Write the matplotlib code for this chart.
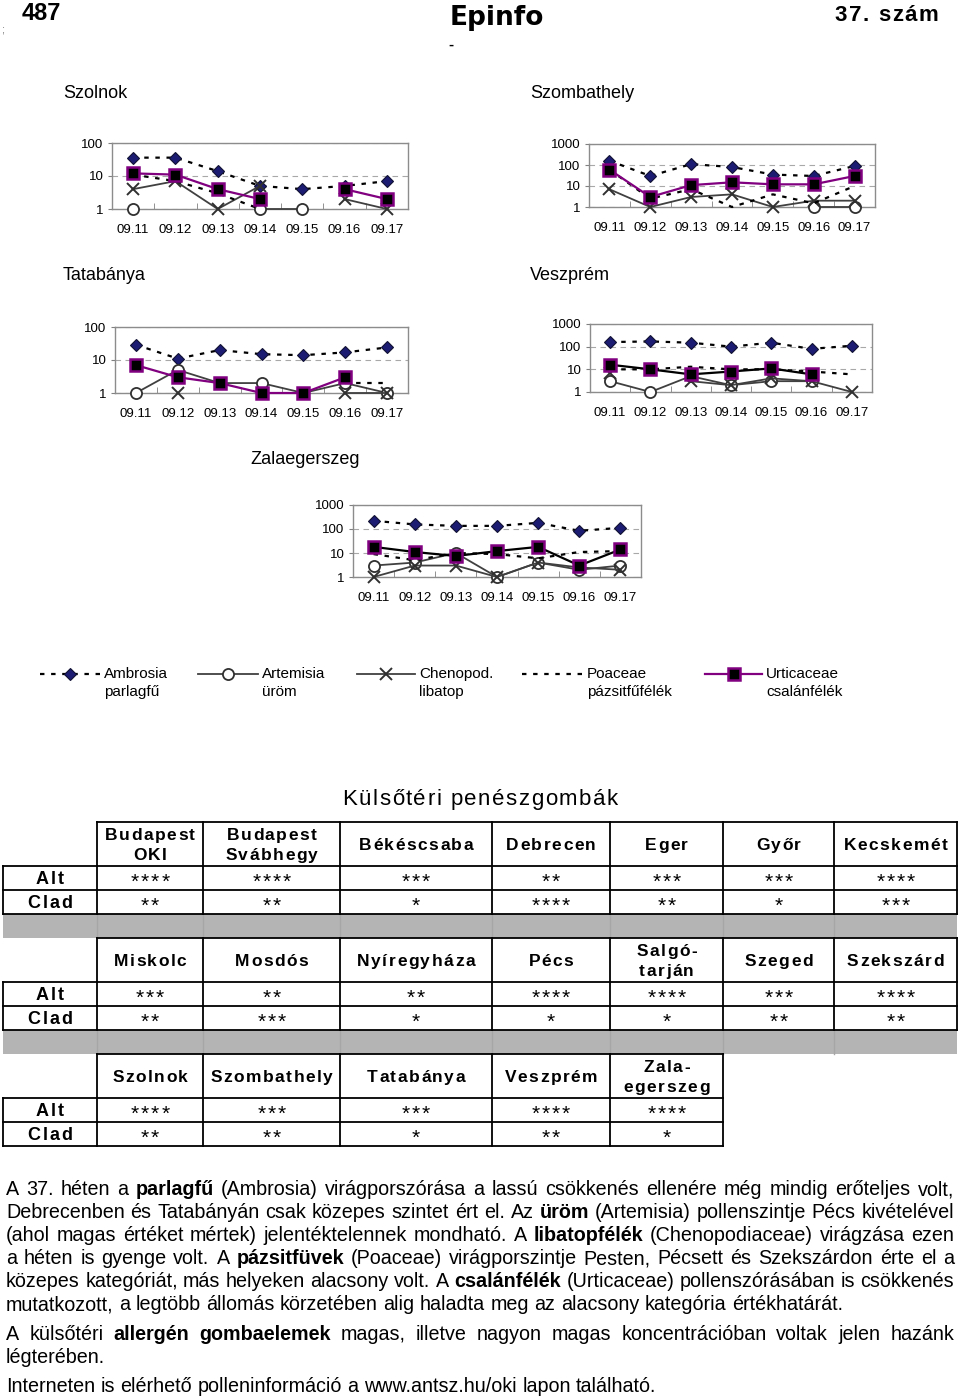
import numpy as np
import matplotlib
matplotlib.use("Agg")
import matplotlib.pyplot as plt
from matplotlib.ticker import FixedLocator, NullLocator

W, H = 960, 1398
nan = np.nan
plt.rcParams['font.family'] = ['Liberation Sans', 'DejaVu Sans']

dates = ["09.11", "09.12", "09.13", "09.14", "09.15", "09.16", "09.17"]

# pollen per m3, missing/zero days left as nan (log axis)
szolnok_amb = [36, 36, 14, 5, 4, 5, 7]
szolnok_art = [1, nan, nan, 1, 1, nan, nan]
szolnok_che = [4, 7, 1, 5, nan, 2, 1]
szolnok_poa = [11, 7, 3, 1, nan, nan, nan]
szolnok_urt = [12, 11, 4, 2, nan, 4, 2]

szombathely_amb = [160, 30, 110, 80, 35, 30, 90]
szombathely_art = [nan, nan, nan, nan, nan, 1, 1]
szombathely_che = [7, 1, 3, 4, 1, 2, 2]
szombathely_poa = [60, 2.5, 7, 1, 4, 1.5, 10]
szombathely_urt = [60, 3, 11, 15, 12, 12, 30]

tatabanya_amb = [29, 11, 20, 15, 14, 17, 24]
tatabanya_art = [1, 5, 2, 2, 1, 2, 1]
tatabanya_che = [nan, 1, nan, nan, nan, 1, 1]
tatabanya_poa = [nan, nan, nan, nan, nan, 2, 2]
tatabanya_urt = [7, 3, 2, 1, 1, 3, nan]

veszprem_amb = [160, 170, 150, 100, 150, 80, 110]
veszprem_art = [3, 1, 5, 2, 3, 3, nan]
veszprem_che = [7, nan, 3, 2, 4, 3, 1]
veszprem_poa = [10, 10, 13, 10, 10, 8, 6]
veszprem_urt = [16, 10, 6, 8, 11, 6, nan]

zala_amb = [220, 155, 135, 135, 180, 84, 112]
zala_art = [3, 4, 10, 1, 4, 2, 3]
zala_che = [1, 3, 3, 1, 4, 2.5, 2]
zala_poa = [9, 5, 10, 9, 6, 11, 12]
zala_urt = [18, 11, 7.5, 12, 18, 3, 14]

legend_names = ["Ambrosia", "Artemisia", "Chenopod.", "Poaceae", "Urticaceae"]
legend_hu = ["parlagfű", "üröm", "libatop", "pázsitfűfélék", "csalánfélék"]

# moulds table
t1_cities = ["Budapest\nOKI", "Budapest\nSvábhegy", "Békéscsaba", "Debrecen", "Eger", "Győr", "Kecskemét"]
t1_alt = ["****", "****", "***", "**", "***", "***", "****"]
t1_clad = ["**", "**", "*", "****", "**", "*", "***"]
t2_cities = ["Miskolc", "Mosdós", "Nyíregyháza", "Pécs", "Salgó-\ntarján", "Szeged", "Szekszárd"]
t2_alt = ["***", "**", "**", "****", "****", "***", "****"]
t2_clad = ["**", "***", "*", "*", "*", "**", "**"]
t3_cities = ["Szolnok", "Szombathely", "Tatabánya", "Veszprém", "Zala-\negerszeg"]
t3_alt = ["****", "***", "***", "****", "****"]
t3_clad = ["**", "**", "*", "**", "*"]

text_lines = [
    ("A 37. héten a **parlagfű** (Ambrosia) virágporszórása a lassú csökkenés ellenére még mindig erőteljes volt,", True),
    ("Debrecenben és Tatabányán csak közepes szintet ért el. Az **üröm** (Artemisia) pollenszintje Pécs kivételével", True),
    ("(ahol magas értéket mértek) jelentéktelennek mondható. A **libatopfélék** (Chenopodiaceae) virágzása ezen", True),
    ("a héten is gyenge volt. A **pázsitfüvek** (Poaceae) virágporszintje Pesten, Pécsett és Szekszárdon érte el a", True),
    ("közepes kategóriát, más helyeken alacsony volt. A **csalánfélék** (Urticaceae) pollenszórásában is csökkenés", True),
    ("mutatkozott, a legtöbb állomás körzetében alig haladta meg az alacsony kategória értékhatárát.", False),
    ("A külsőtéri **allergén gombaelemek** magas, illetve nagyon magas koncentrációban voltak jelen hazánk", True),
    ("légterében.", False),
    ("Interneten is elérhető polleninformáció a www.antsz.hu/oki lapon található.", False),
]
text_y = [1188, 1211, 1234, 1257, 1280, 1303, 1333, 1356, 1385]

PURPLE = "#800080"
DOT = (0, (2, 3))
styles = [
    dict(color="black", ls=DOT, lw=1.6, marker="D", ms=6.5, mfc="#1c1c72", mec="#111133", mew=0.8),
    dict(color="#404040", ls="-", lw=1.3, marker="o", ms=8, mfc="white", mec="#303030", mew=1.3),
    dict(color="#404040", ls="-", lw=1.3, marker="x", ms=9, mec="#303030", mew=1.4),
    dict(color="black", ls=DOT, lw=1.6, marker=None),
    dict(color=PURPLE, ls="-", lw=1.6, marker="s", ms=8, mfc="black", mec=PURPLE, mew=1.8),
]

fig = plt.figure(figsize=(W / 100, H / 100), dpi=100)
page = fig.add_axes([0, 0, 1, 1])
page.set_xlim(0, W)
page.set_ylim(H, 0)
page.axis("off")
renderer = fig.canvas.get_renderer()


def px_rect(x0, y0, x1, y1):
    return [x0 / W, 1 - y1 / H, (x1 - x0) / W, (y1 - y0) / H]


def spaced(x, y, s, size, weight="normal", sp=1.5, ha="center", lift=0.36, **kw):
    """Letter-spaced text, y is the visual centre of the caps."""
    base = y + lift * size * 100 / 72
    arts, widths = [], []
    for ch in s:
        if ch == " ":
            arts.append(None)
            widths.append(0.278 * size * 100 / 72)
            continue
        t = page.text(0, base, ch, fontsize=size, fontweight=weight,
                      ha="left", va="baseline", **kw)
        arts.append(t)
        widths.append(t.get_window_extent(renderer).width)
    total = sum(widths) + sp * (len(s) - 1)
    xx = x - total / 2 if ha == "center" else (x - total if ha == "right" else x)
    for t, w in zip(arts, widths):
        if t is not None:
            t.set_x(xx)
        xx += w + sp


def chart(box, title, txy, top, series, urt_line):
    page.text(txy[0], txy[1], title, fontsize=13, ha="left", va="center")
    ax = fig.add_axes(px_rect(*box))
    x = np.arange(len(dates))
    for i, (vals, st) in enumerate(zip(series, styles)):
        st = dict(st)
        if i == 4:
            st["color"] = urt_line
        ax.plot(x, vals, clip_on=False, zorder=3 + i, **st)
    ax.set_yscale("log")
    ax.set_ylim(1, top)
    ax.set_xlim(-0.5, len(dates) - 0.5)
    yt = [10 ** k for k in range(int(round(np.log10(top))) + 1)]
    ax.yaxis.set_major_locator(FixedLocator(yt))
    ax.yaxis.set_minor_locator(NullLocator())
    ax.set_yticklabels([str(v) for v in yt])
    ax.set_xticks(x)
    ax.set_xticklabels(dates)
    ax.set_xticks(np.arange(0.5, len(dates) - 1, 1), minor=True)
    ax.tick_params(axis="x", which="major", length=0, pad=11, labelsize=9.5)
    ax.tick_params(axis="x", which="minor", length=4, direction="in", color="#808080")
    ax.tick_params(axis="y", which="major", length=3, direction="out", color="#808080",
                   pad=3, labelsize=9.5)
    ax.yaxis.grid(True, which="major", ls=(0, (5, 4)), color="#a8a8a8", lw=0.8)
    ax.set_axisbelow(True)
    for s in ax.spines.values():
        s.set_color("#8c8c8c")
        s.set_linewidth(1.0)
    ax.patch.set_alpha(0)


chart((112, 143, 408, 209), "Szolnok", (63, 93), 100,
      [szolnok_amb, szolnok_art, szolnok_che, szolnok_poa, szolnok_urt], PURPLE)
chart((589, 144, 875, 207), "Szombathely", (530, 93), 1000,
      [szombathely_amb, szombathely_art, szombathely_che, szombathely_poa, szombathely_urt], PURPLE)
chart((115, 327, 408, 393), "Tatabánya", (63, 276), 100,
      [tatabanya_amb, tatabanya_art, tatabanya_che, tatabanya_poa, tatabanya_urt], PURPLE)
chart((590, 324, 872, 392), "Veszprém", (530, 276), 1000,
      [veszprem_amb, veszprem_art, veszprem_che, veszprem_poa, veszprem_urt], "black")
chart((353, 505, 641, 577), "Zalaegerszeg", (250, 460), 1000,
      [zala_amb, zala_art, zala_che, zala_poa, zala_urt], "black")

# legend row
leg_x = [(40, 100), (198, 258), (357, 415), (522, 583), (705, 762)]
for (a, b), st, name, hu in zip(leg_x, styles, legend_names, legend_hu):
    st = dict(st)
    mk = {k: st.pop(k) for k in ["marker", "ms", "mfc", "mec", "mew"] if k in st}
    page.plot([a, b], [674, 674], color=st["color"], ls=st["ls"], lw=st["lw"])
    if mk.get("marker"):
        page.plot([(a + b) / 2], [674], ls="none", **mk)
    page.text(b + 4, 674, name, fontsize=11, ha="left", va="center")
    page.text(b + 4, 692, hu, fontsize=11, ha="left", va="center")

# page header
NARROW = ['Liberation Sans Narrow', 'Liberation Sans']
page.text(22, 13, "487", fontsize=17, fontweight="bold", family=NARROW, ha="left", va="center")
spaced(938, 13, "37. szám", 16, weight="bold", sp=1.5, ha="right")
page.text(497, 18, "Epinfo", fontsize=19, fontweight="heavy", family=['DejaVu Sans'],
          ha="center", va="center")
page.text(451, 45, "-", fontsize=11, fontweight="bold", ha="center", va="center")
page.text(3, 30, ";", fontsize=8, color="#777777", ha="center", va="center")

# mould tables
spaced(480, 797, "Külsőtéri penészgombák", 16, sp=1.5)
edges = [3, 97, 203, 340, 492, 610, 723, 834, 957]
LW = 1.3


def table(top, cities, alt, clad):
    ncol = len(cities)
    right = edges[ncol + 1]
    hb, ab, cb = top + 44, top + 68, top + 92
    page.plot([edges[1], right], [top, top], color="black", lw=LW)
    for yy in (hb, ab, cb):
        page.plot([edges[0], right], [yy, yy], color="black", lw=LW)
    page.plot([edges[0], edges[0]], [hb, cb], color="black", lw=LW)
    for e in edges[1:ncol + 2]:
        page.plot([e, e], [top, cb], color="black", lw=LW)
    lx = (edges[0] + edges[1]) / 2
    spaced(lx, (hb + ab) / 2, "Alt", 13, weight="bold", sp=2)
    spaced(lx, (ab + cb) / 2, "Clad", 13, weight="bold", sp=2)
    for i, (c, a, d) in enumerate(zip(cities, alt, clad)):
        cx = (edges[i + 1] + edges[i + 2]) / 2
        parts = c.split("\n")
        mid = (top + hb) / 2
        if len(parts) == 1:
            spaced(cx, mid, c, 12.5, weight="bold", sp=1.5)
        else:
            spaced(cx, mid - 10, parts[0], 12.5, weight="bold", sp=1.5)
            spaced(cx, mid + 10, parts[1], 12.5, weight="bold", sp=1.5)
        spaced(cx, (hb + ab) / 2, a, 15, sp=2, lift=0.45)
        spaced(cx, (ab + cb) / 2, d, 15, sp=2, lift=0.45)


def band(y0):
    page.add_patch(plt.Rectangle((edges[0], y0), edges[-1] - edges[0], 24,
                                 facecolor="#b4b4b4", edgecolor="none", zorder=0))
    for e in edges[1:-1]:
        page.plot([e, e], [y0, y0 + 24], color="#a6a6a6", lw=1, zorder=0.5)


table(822, t1_cities, t1_alt, t1_clad)
band(914)
table(938, t2_cities, t2_alt, t2_clad)
band(1030)
table(1054, t3_cities, t3_alt, t3_clad)

# justified body text
SIZE = 14.2
x_left, x_right = 6, 954
for (line, justify), y in zip(text_lines, text_y):
    tokens = []
    for k, part in enumerate(line.split("**")):
        for w in part.split():
            tokens.append((w, k % 2 == 1))
    base = y + 0.36 * SIZE * 100 / 72
    arts = [page.text(0, base, w, fontsize=SIZE, fontweight="bold" if b else "normal",
                      ha="left", va="baseline") for w, b in tokens]
    widths = [t.get_window_extent(renderer).width for t in arts]
    if justify and len(arts) > 1:
        gap = (x_right - x_left - sum(widths)) / (len(arts) - 1)
    else:
        gap = 0.278 * SIZE * 100 / 72
    xx = x_left
    for t, wdt in zip(arts, widths):
        t.set_x(xx)
        xx += wdt + gap

fig.savefig("out.png", dpi=100)
